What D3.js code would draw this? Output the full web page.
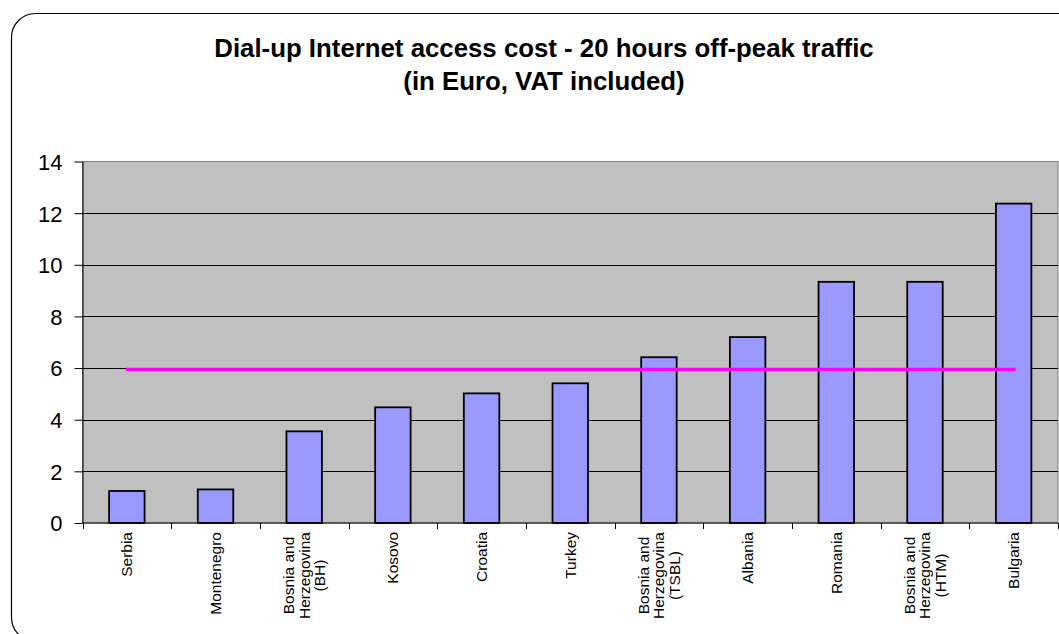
<!DOCTYPE html>
<html>
<head>
<meta charset="utf-8">
<script src="https://cdn.jsdelivr.net/npm/d3@7"></script>
<style>
  html, body { margin: 0; padding: 0; background: #fff; }
  svg { display: block; }
  text { font-family: "Liberation Sans", Arial, sans-serif; }
</style>
</head>
<body>
<svg id="chart" width="1059" height="634"></svg>
<script>
// Countries / operators (multi-line labels split on "|")
const categories = [
  "Serbia", "Montenegro", "Bosnia and|Herzegovina|(BH)", "Kosovo", "Croatia", "Turkey",
  "Bosnia and|Herzegovina|(TSBL)", "Albania", "Romania", "Bosnia and|Herzegovina|(HTM)", "Bulgaria"
];
// Cost for 20 hours off-peak dial-up, EUR incl. VAT
const costs = [1.24, 1.30, 3.55, 4.48, 5.02, 5.41, 6.42, 7.20, 9.34, 9.34, 12.37];
// Regional average shown as a reference line
const averageCost = 5.95;
const yTicks = [0, 2, 4, 6, 8, 10, 12, 14];
const titleLines = ["Dial-up Internet access cost - 20 hours off-peak traffic", "(in Euro, VAT included)"];

const svg = d3.select("#chart");

// Outer chart frame with rounded corners
svg.append("rect")
  .attr("x", 11.5).attr("y", 13.5)
  .attr("width", 1100).attr("height", 628)
  .attr("rx", 24).attr("ry", 24)
  .attr("fill", "#fff").attr("stroke", "#000").attr("stroke-width", 1.2);

const plot = { left: 82.5, top: 161.5, right: 1058, bottom: 523 };

const x = d3.scaleBand()
  .domain(categories)
  .range([plot.left, plot.right])
  .paddingInner(0).paddingOuter(0);

const y = d3.scaleLinear().domain([0, 14]).range([plot.bottom, plot.top]);

// Plot area background
svg.append("rect")
  .attr("x", plot.left).attr("y", plot.top)
  .attr("width", plot.right - plot.left).attr("height", plot.bottom - plot.top)
  .attr("fill", "#C0C0C0").attr("stroke", "#808080").attr("stroke-width", 1);

// Horizontal gridlines
svg.append("g")
  .selectAll("line")
  .data(yTicks.filter(t => t > 0 && t < 14))
  .join("line")
  .attr("x1", plot.left).attr("x2", plot.right)
  .attr("y1", d => Math.round(y(d)) + 0.5).attr("y2", d => Math.round(y(d)) + 0.5)
  .attr("stroke", "#000").attr("stroke-width", 1);

// Bars
const barW = x.bandwidth() / 2.5;
svg.append("g")
  .selectAll("rect")
  .data(costs)
  .join("rect")
  .attr("x", (d, i) => x(categories[i]) + (x.bandwidth() - barW) / 2)
  .attr("y", d => y(d))
  .attr("width", barW)
  .attr("height", d => y(0) - y(d))
  .attr("fill", "#9999FF")
  .attr("stroke", "#000").attr("stroke-width", 1.8);

// Average line from first to last category centre
svg.append("line")
  .attr("x1", x(categories[0]) + x.bandwidth() / 2 - 1)
  .attr("x2", x(categories[categories.length - 1]) + x.bandwidth() / 2 + 2)
  .attr("y1", y(averageCost)).attr("y2", y(averageCost))
  .attr("stroke", "#FF00FF").attr("stroke-width", 3.4);

// Y axis
const yAxis = d3.axisLeft(y).tickValues(yTicks).tickSize(8).tickPadding(12).tickSizeOuter(0);
const gy = svg.append("g").attr("transform", `translate(${plot.left},0)`).call(yAxis);
gy.select(".domain").attr("stroke", "#000");
gy.selectAll(".tick line").attr("stroke", "#000");
gy.selectAll(".tick text")
  .attr("font-family", "'Liberation Sans', Arial, sans-serif")
  .attr("font-size", 22).attr("fill", "#000").attr("dy", "0.36em");

// X axis line with ticks at category boundaries
svg.append("line")
  .attr("x1", plot.left).attr("x2", plot.right)
  .attr("y1", plot.bottom).attr("y2", plot.bottom)
  .attr("stroke", "#000").attr("stroke-width", 1);
const bounds = categories.map(c => x(c)).concat([plot.right]);
svg.append("g").selectAll("line")
  .data(bounds)
  .join("line")
  .attr("x1", d => Math.round(d) + 0.5).attr("x2", d => Math.round(d) + 0.5)
  .attr("y1", plot.bottom).attr("y2", plot.bottom + 6)
  .attr("stroke", "#000");

// Rotated category labels: block ends just under the axis, lines centred on each other
const lineGap = 15.5;
const labelTop = 532;
categories.forEach(c => {
  const lines = c.split("|");
  const n = lines.length;
  const cx = x(c) + x.bandwidth() / 2;
  const t = svg.append("g")
    .attr("transform", `translate(${cx},${labelTop}) rotate(-90)`)
    .append("text")
    .attr("font-size", 15.5).attr("fill", "#000").attr("text-anchor", "middle");
  lines.forEach((ln, i) => {
    t.append("tspan").attr("y", (i - (n - 1) / 2) * lineGap + 5.5).text(ln);
  });
  const widths = [];
  t.selectAll("tspan").each(function () { widths.push(this.getComputedTextLength()); });
  const maxW = d3.max(widths);
  t.selectAll("tspan").attr("x", -maxW / 2);
});

// Title
svg.append("g").selectAll("text")
  .data(titleLines)
  .join("text")
  .attr("x", 544).attr("y", (d, i) => 57 + i * 33)
  .attr("text-anchor", "middle")
  .attr("font-size", 25.8).attr("font-weight", "bold").attr("fill", "#000")
  .text(d => d);
</script>
</body>
</html>
